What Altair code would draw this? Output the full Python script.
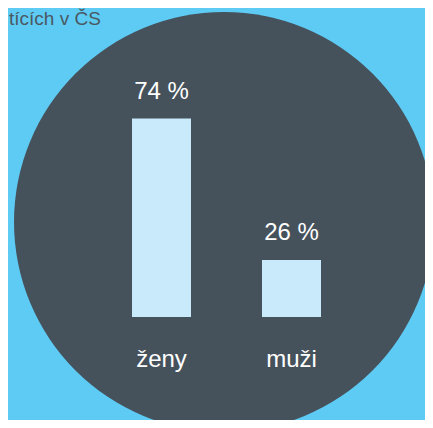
import altair as alt
import pandas as pd

# data
categories = ["ženy", "muži"]
values = [74, 26]
value_labels = ["74 %", "26 %"]
title_text = "tících v ČS"

BG = "#5ECBF4"
DARK = "#46525B"
BAR = "#C8EAFA"

df = pd.DataFrame({"cat": categories, "val": values, "lab": value_labels})
one = pd.DataFrame({"k": [0]})

xscale = alt.Scale(type="point", domain=categories, range=[153.5, 283.5], padding=0)
yscale = alt.Scale(domain=[6.66, 74], range=[309, 110.5], zero=False, nice=False)

circle = alt.Chart(one).mark_circle(color=DARK, opacity=1).encode(
    x=alt.value(216), y=alt.value(214), size=alt.value(176400)
)

title = alt.Chart(one).mark_text(
    text=title_text, align="left", baseline="alphabetic",
    fontSize=19, font="Arial", color="#4A5862"
).encode(x=alt.value(1), y=alt.value(17))

base = alt.Chart(df)

bars = base.mark_bar(color=BAR, width=59).encode(
    x=alt.X("cat:N", scale=xscale, axis=None, sort=categories),
    y=alt.Y("val:Q", scale=yscale, axis=None),
    y2=alt.datum(6.66),
)

vlabels = base.mark_text(
    align="center", baseline="alphabetic", dy=-20,
    fontSize=24, font="Arial", color="#FFFFFF"
).encode(
    x=alt.X("cat:N", scale=xscale, axis=None, sort=categories),
    y=alt.Y("val:Q", scale=yscale, axis=None),
    text="lab:N",
)

clabels = base.mark_text(
    align="center", baseline="alphabetic",
    fontSize=24, font="Arial", color="#FFFFFF"
).encode(
    x=alt.X("cat:N", scale=xscale, axis=None, sort=categories),
    y=alt.value(359),
    text="cat:N",
)

chart = alt.layer(circle, title, bars, vlabels, clabels).properties(
    width=417, height=412, background=BG,
    autosize=alt.AutoSizeParams(type="none"), padding=0,
).configure_view(stroke=None)

chart.save("out.html", embed_options={"renderer": "svg", "actions": False})
